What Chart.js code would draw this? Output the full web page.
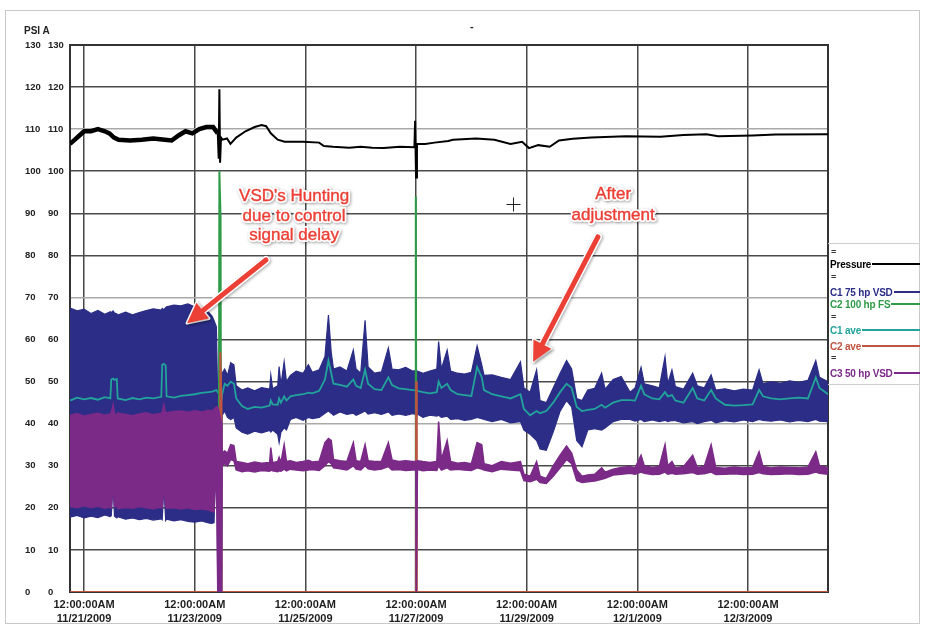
<!DOCTYPE html>
<html>
<head>
<meta charset="utf-8">
<script src="https://cdn.jsdelivr.net/npm/chart.js@4.4.1/dist/chart.umd.min.js"></script>
<style>
  html, body { margin: 0; padding: 0; background: #fff; }
  #wrap { position: relative; width: 926px; height: 631px; overflow: hidden; font-family: "Liberation Sans", Arial, sans-serif; }
  #frame { position: absolute; left: 5px; top: 10px; width: 915px; height: 614px; border: 1px solid #c9c9c9; box-sizing: border-box; }
  canvas { position: absolute; left: 0; top: 0; }
  .lbl { position: absolute; font-weight: bold; color: #222; white-space: nowrap; }
  #legend { position: absolute; left: 828px; top: 243px; width: 92px; height: 140px; border-top: 1px solid #cfcfcf; border-bottom: 1px solid #cfcfcf; }
  .row { position: absolute; left: 2px; right: 0; height: 12px; display: flex; align-items: center; font-size: 10px; font-weight: bold; white-space: nowrap; letter-spacing: -0.2px; }
  .row .ln { flex: 1; height: 2px; margin-left: 1px; }
  .eq { position: absolute; left: 3px; font-size: 9px; font-weight: bold; color: #333; line-height: 9px; }
</style>
</head>
<body>
<div id="wrap">
  <div id="frame"></div>
  <canvas id="chart" width="926" height="631"></canvas>
  <div class="lbl" style="left:24px;top:25px;font-size:10px;">PSI A</div>
  <div class="lbl" style="left:470px;top:20px;font-size:11px;">-</div>
  <div id="legend"></div>
</div>
<script>
// Time axis: hours since 11/21/2009 00:00
const tickHours = [0, 48, 96, 144, 192, 240, 288];
const tickTimes = ['12:00:00AM', '12:00:00AM', '12:00:00AM', '12:00:00AM', '12:00:00AM', '12:00:00AM', '12:00:00AM'];
const tickDates = ['11/21/2009', '11/23/2009', '11/25/2009', '11/27/2009', '11/29/2009', '12/1/2009', '12/3/2009'];
const psiTicks = [0, 10, 20, 30, 40, 50, 60, 70, 80, 90, 100, 110, 120, 130];
const lightRows = [40, 70, 110];

// Compressor samples (shared time base)
const sampleHours = [
  -6.1, -3, 0, 3, 6, 9, 11.4, 11.8, 12.6, 13.2,
  14.2, 14.6, 18, 21, 24, 27, 30, 33.5, 33.9, 34.6,
  35.4, 35.8, 39, 42, 45, 48, 51, 54, 55.5, 56.4,
  57.4, 58.0, 59.7, 59.9, 61.0, 62.2, 63.6, 65.0, 66.0, 68.5,
  71.0, 74.0, 77.0, 80.5, 81.0, 81.8, 84.0, 84.6, 85.4, 86.8,
  87.8, 89.5, 92.0, 95.0, 97.3, 99.0, 102.0, 104.5, 106.0, 107.2,
  108.2, 111.0, 114.0, 116.8, 118.0, 120.0, 121.9, 123.2, 126.0, 129.0,
  132.0, 133.6, 136.5, 139.5, 142.5, 143.9, 144.1, 144.4, 144.6, 147.0,
  150.0, 153.0, 153.8, 155.0, 157.5, 159.0, 162.0, 165.0, 168.0, 170.5,
  172.5, 173.5, 177.0, 181.0, 185.0, 189.3, 190.8, 193.5, 196.3, 197.8,
  200.5, 203.5, 206.5, 209.3, 211.5, 213.7, 216.0, 218.5, 221.5, 224.5,
  226.0, 229.5, 233.0, 236.8, 239.0, 241.6, 243.0, 246.5, 249.5, 252.0,
  253.2, 255.0, 256.5, 260.0, 264.0, 266.0, 269.0, 272.0, 274.0, 278.0,
  282.0, 286.0, 290.0, 292.8, 294.5, 298.0, 302.0, 306.0, 310.0, 314.0,
  317.4, 319.0, 322.7
];
// C1 75 hp VSD: upper and lower envelope
const c1High = [
  67.5, 66.8, 67.2, 66.2, 66.9, 66.0, 66.6, 66.4, 66.8, 66.3,
  66.1, 65.8, 66.5, 65.9, 66.4, 66.9, 67.3, 67.0, 67.4, 67.1,
  67.6, 67.8, 68.2, 68.0, 68.5, 67.8, 67.2, 66.5, 65.6, 64.5,
  63.0, 45.0, 45.0, 52.0, 53.0, 51.5, 54.5, 54.0, 49.0, 48.0,
  48.5, 47.8, 48.6, 48.2, 51.6, 48.3, 49.0, 53.6, 49.2, 54.7,
  50.0, 51.5, 52.5, 52.0, 54.0, 52.2, 52.8, 56.0, 65.8, 57.0,
  53.0, 53.5, 52.5, 57.5, 53.0, 52.0, 64.6, 53.5, 52.0, 52.3,
  58.0, 53.0, 52.8, 53.4, 52.5, 52.6, 52.4, 52.5, 52.5, 52.0,
  52.5, 53.0, 59.5, 53.0, 57.5, 52.5, 52.0, 51.8, 52.2, 58.5,
  54.0, 51.5, 51.6, 51.0, 50.5, 54.7, 48.5, 47.5, 52.8, 45.5,
  45.0, 48.5, 52.0, 55.0, 53.0, 46.0, 45.5, 48.0, 48.4, 52.0,
  48.2, 50.5, 51.2, 47.5, 48.5, 53.4, 49.5, 49.0, 48.5, 55.9,
  49.5, 52.8, 48.8, 48.2, 52.0, 49.0, 48.5, 51.6, 48.0, 48.3,
  47.8, 48.2, 48.0, 52.8, 49.5, 50.0, 49.6, 50.2, 49.8, 50.3,
  55.0, 51.0, 50.0
];
const c1Low = [
  17.8, 18.2, 17.6, 18.0, 17.7, 18.3, 17.9, 18.1, 26.0, 18.0,
  17.6, 17.9, 17.3, 17.6, 17.2, 17.5, 17.1, 17.4, 17.2, 25.5,
  17.0, 17.3, 16.9, 17.2, 16.8, 16.6, 16.9, 16.4, 16.3, 16.5,
  45.0, 0.0, 0.0, 42.0, 43.0, 41.5, 41.0, 41.5, 39.0, 38.0,
  37.5, 38.2, 37.8, 38.4, 38.0, 38.5, 37.5, 35.5, 38.0, 39.0,
  38.5, 41.0, 41.5, 40.8, 41.5, 41.2, 41.5, 42.5, 43.0, 42.5,
  42.0, 42.8, 42.2, 42.5, 42.0, 42.5, 43.0, 42.3, 42.6, 42.2,
  42.8, 42.0, 42.3, 42.0, 42.4, 42.2, 42.0, 42.1, 42.3, 41.5,
  42.0, 41.8, 42.0, 41.5, 41.8, 41.0, 41.2, 40.8, 41.0, 41.5,
  41.2, 41.0, 40.5, 41.0, 40.2, 40.5, 38.5, 37.5, 36.0, 34.0,
  33.7, 38.0, 43.0, 45.5, 44.0, 36.0, 34.5, 38.5, 38.8, 38.5,
  39.0, 40.5, 41.0, 41.0, 40.6, 41.0, 40.5, 40.9, 40.5, 40.8,
  40.5, 40.8, 40.7, 40.2, 40.5, 40.0, 40.5, 40.8, 40.2, 40.7,
  40.4, 40.9, 40.5, 41.0, 40.8, 40.6, 40.9, 40.4, 40.8, 40.5,
  41.0, 40.6, 40.5
];
// C1 ave
const c1Avg = [
  45.5, 46.2, 45.8, 46.1, 45.7, 46.3, 46.0, 50.5, 50.7, 50.4,
  50.6, 46.0, 45.6, 46.1, 45.8, 46.2, 46.0, 46.4, 54.0, 54.2,
  53.8, 46.5, 46.2, 46.6, 46.8, 47.0, 47.3, 47.5, 47.6, 47.8,
  48.0, 47.5, 46.0, 47.0, 49.5, 49.0, 50.0, 49.5, 46.0, 44.2,
  43.5, 44.0, 43.8, 44.3, 45.5, 44.6, 44.5, 46.0, 45.0, 46.5,
  45.5, 46.5, 46.8, 47.0, 47.4, 47.2, 47.8, 50.5, 55.0, 52.0,
  49.5, 49.2, 48.8, 50.5, 49.0, 48.5, 52.8, 49.5, 48.2, 48.0,
  51.0, 49.2, 48.4, 48.2, 48.0, 47.9, 47.8, 47.8, 47.8, 47.5,
  47.2, 47.5, 50.0, 48.5, 49.5, 48.0, 47.0, 46.8, 46.6, 53.5,
  51.0, 48.0, 47.0, 46.5, 46.0, 47.0, 43.5, 42.0, 43.0, 42.5,
  43.0, 45.0, 47.5, 49.5, 48.5, 44.0, 43.0, 43.3, 43.5, 44.5,
  43.8, 45.0, 45.6, 45.6, 45.5, 49.0, 47.0, 46.0, 45.8, 47.5,
  46.5, 46.8, 45.5, 45.0, 48.5, 46.0, 45.5, 48.0, 46.0, 44.5,
  44.3, 44.4, 44.6, 48.0, 46.5, 46.0, 45.8, 46.0, 46.2, 46.0,
  51.0, 48.5, 47.0
];
// C3 50 hp VSD: upper and lower envelope
const c3High = [
  42.0, 42.4, 41.8, 42.2, 42.5, 42.0, 42.3, 42.6, 44.5, 42.4,
  42.1, 42.5, 42.2, 41.9, 42.3, 42.6, 42.1, 42.5, 42.8, 44.5,
  42.4, 42.6, 42.9, 43.0, 42.7, 43.1, 42.8, 43.2, 43.0, 43.5,
  44.0, 44.0, 40.0, 33.0, 33.5, 33.0, 35.0, 34.8, 31.0, 30.8,
  30.5, 30.9, 30.6, 30.8, 34.3, 30.7, 31.0, 32.0, 30.8, 35.0,
  31.0, 31.2, 30.8, 31.0, 31.3, 30.9, 31.1, 35.5, 36.5, 36.0,
  31.5, 31.2, 31.0, 35.5, 31.2, 31.0, 35.0, 31.2, 31.0, 31.1,
  35.5, 31.4, 31.0, 31.2, 31.0, 31.0, 31.0, 31.0, 31.2, 31.0,
  30.8, 31.0, 40.5, 31.5, 36.0, 31.0, 30.6, 30.8, 30.5, 35.5,
  35.0, 30.5, 30.0, 31.0, 30.6, 31.0, 28.0, 27.5, 31.0, 27.5,
  27.0, 30.0, 32.5, 34.7, 33.0, 29.0, 27.5, 27.8, 28.0, 29.5,
  28.5, 29.2, 29.6, 29.8, 29.5, 32.5, 30.0, 29.6, 29.8, 35.0,
  30.0, 31.0, 29.5, 29.8, 32.5, 29.6, 29.8, 35.0, 29.6, 29.4,
  29.7, 29.5, 29.6, 33.3, 29.8, 29.5, 29.7, 29.6, 29.5, 29.7,
  33.3, 30.0, 29.6
];
const c3Low = [
  20.3, 20.0, 20.5, 20.1, 20.4, 19.9, 20.2, 20.0, 26.0, 20.2,
  20.5, 19.8, 20.1, 19.9, 20.3, 20.0, 19.8, 20.2, 20.0, 25.5,
  20.1, 19.9, 20.0, 19.7, 20.0, 19.6, 19.8, 19.5, 19.2, 19.0,
  30.0, 0.0, 0.0, 30.0, 30.5, 30.0, 31.5, 31.2, 29.0, 28.6,
  28.8, 28.5, 28.9, 28.7, 29.0, 28.8, 28.6, 28.8, 28.7, 29.2,
  28.8, 29.2, 29.0, 28.8, 29.0, 29.1, 28.9, 30.0, 31.0, 30.5,
  29.5, 29.3, 29.0, 30.0, 29.2, 29.0, 30.0, 29.3, 29.0, 29.2,
  29.8, 29.0, 29.1, 28.9, 29.0, 29.0, 0.0, 0.0, 29.1, 28.8,
  29.0, 28.9, 30.0, 29.0, 29.5, 29.0, 29.2, 29.0, 28.9, 29.5,
  29.2, 29.0, 28.6, 29.2, 29.0, 28.8, 26.5, 26.2, 26.8, 26.0,
  25.8, 27.5, 29.5, 31.5, 30.5, 26.5, 26.0, 26.2, 26.4, 26.8,
  27.0, 27.8, 28.0, 28.2, 28.0, 28.5, 28.2, 27.9, 28.0, 28.5,
  28.0, 28.2, 28.0, 28.1, 28.4, 28.0, 28.1, 28.5, 27.9, 28.0,
  28.1, 27.9, 28.0, 28.4, 28.1, 27.9, 28.0, 28.1, 27.9, 28.0,
  28.5, 28.2, 28.0
];

// Header pressure
const pressureHours = [
  -6.1, -4, -2, 0, 3, 6, 9, 11, 13, 15,
  20, 25, 30, 35, 38, 41, 44, 47, 50, 53,
  56, 58.0, 58.4, 58.7, 59.0, 59.4, 60, 62, 63.5, 66,
  70, 74, 77, 79, 81, 84, 87, 95, 102, 104,
  108, 115, 120, 125, 130, 137, 143.3, 143.6, 144.0, 144.4,
  148, 152, 158, 160, 170, 178, 185, 190, 193, 197,
  202, 206, 212, 220, 235, 250, 260, 270, 275, 290,
  300, 322.7
];
const pressurePsi = [
  106.5, 107.5, 108.5, 109.5, 109.5, 110, 109.5, 109, 108, 107.5,
  107.3, 107.5, 107.8, 107.5, 107.3, 108.5, 109.5, 109, 110, 110.5,
  110.5, 109, 103, 119.5, 102, 108, 107.5, 107.8, 106.5, 108,
  109.5, 110.5, 111, 110.7, 109, 107.5, 107, 107, 106.8, 106,
  105.8, 105.6, 105.8, 105.6, 105.5, 105.8, 105.7, 112, 98.5, 106.5,
  106.5, 106.8, 107.2, 107.5, 107.8, 107.5, 106.5, 107, 105.5, 106.2,
  105.8, 107.3, 107.7, 108, 108.3, 108.2, 108.6, 108.8, 108.3, 108.5,
  108.7, 108.8
];

// C2 100 hp FS (fixed speed) and its average
const c2Hours = [-6.1, 58.4, 58.7, 59.2, 59.5, 143.7, 143.9, 144.2, 322.7];
const c2Psi = [0, 0, 100, 89, 0, 0, 94, 0, 0];
const c2AveHours = [-6.1, 58.9, 59.1, 59.5, 59.6, 143.95, 144.05, 144.3, 144.35, 322.7];
const c2AvePsi = [0, 0, 57, 47, 0, 0, 50, 45, 0, 0];

const seriesNames = ['Pressure', 'C1 75 hp VSD', 'C2 100 hp FS', 'C1 ave', 'C2 ave', 'C3 50 hp VSD'];
const seriesColors = ['#000000', '#2b2d86', '#2f9a48', '#22a39b', '#bf5440', '#7b2a88'];

// Callout notes, placed in data units (hours, psi)
const noteHunting = { at: 91.1, rows: [94.1, 89.4, 84.8], lines: ["VSD's Hunting", 'due to control', 'signal delay'], arrow: [[78.9, 78.9], [44.7, 63.9]] };
const noteAdjust = { at: 229.5, rows: [94.4, 89.6], lines: ['After', 'adjustment'], arrow: [[222.9, 84.4], [194.8, 54.7]] };
const cursorMark = [186.1, 92.2];

const FONT = '"Liberation Sans", Arial, sans-serif';
const zip = (xs, ys) => xs.slice(0, Math.min(xs.length, ys.length)).map((x, i) => ({ x, y: ys[i] }));

// legend box
(function buildLegend() {
  const box = document.getElementById('legend');
  const eqRows = [9, 34, 74, 115];
  eqRows.forEach(c => {
    const e = document.createElement('div');
    e.className = 'eq'; e.style.top = (c - 5) + 'px'; e.textContent = '=';
    box.appendChild(e);
  });
  const centers = [20, 48, 60, 86, 102, 129];
  seriesNames.forEach((name, i) => {
    const r = document.createElement('div');
    r.className = 'row'; r.style.top = (centers[i] - 6) + 'px'; r.style.color = seriesColors[i];
    const s = document.createElement('span'); s.textContent = name;
    const l = document.createElement('div'); l.className = 'ln'; l.style.background = seriesColors[i];
    r.appendChild(s); r.appendChild(l); box.appendChild(r);
  });
})();

const plotFrame = {
  id: 'plotFrame',
  beforeDatasetsDraw(chart) {
    const { ctx, chartArea: a } = chart;
    ctx.save();
    ctx.strokeStyle = '#333';
    ctx.lineWidth = 2;
    ctx.strokeRect(a.left, a.top, a.right - a.left, a.bottom - a.top);
    ctx.restore();
  }
};

function drawArrow(ctx, x0, y0, x1, y1) {
  const ang = Math.atan2(y1 - y0, x1 - x0);
  const headLen = 20, headW = 10;
  const bx = x1 - headLen * Math.cos(ang), by = y1 - headLen * Math.sin(ang);
  const sx = Math.sin(ang), cy = Math.cos(ang);
  // white halo
  ctx.save();
  ctx.shadowColor = 'rgba(0,0,0,0.35)'; ctx.shadowBlur = 3; ctx.shadowOffsetX = 1; ctx.shadowOffsetY = 1;
  ctx.strokeStyle = '#fff'; ctx.fillStyle = '#fff'; ctx.lineWidth = 8; ctx.lineCap = 'round'; ctx.lineJoin = 'round';
  ctx.beginPath(); ctx.moveTo(x0, y0); ctx.lineTo(bx, by); ctx.stroke();
  ctx.beginPath(); ctx.moveTo(x1, y1); ctx.lineTo(bx + headW * sx, by - headW * cy); ctx.lineTo(bx - headW * sx, by + headW * cy); ctx.closePath();
  ctx.lineWidth = 3; ctx.stroke(); ctx.fill();
  ctx.restore();
  // red arrow
  ctx.save();
  ctx.strokeStyle = '#ec3f35'; ctx.fillStyle = '#ec3f35'; ctx.lineWidth = 5; ctx.lineCap = 'round';
  ctx.beginPath(); ctx.moveTo(x0, y0); ctx.lineTo(bx, by); ctx.stroke();
  ctx.beginPath(); ctx.moveTo(x1, y1); ctx.lineTo(bx + headW * sx, by - headW * cy); ctx.lineTo(bx - headW * sx, by + headW * cy); ctx.closePath(); ctx.fill();
  ctx.restore();
}

function drawNote(ctx, text, x, y) {
  ctx.save();
  ctx.font = '17px ' + FONT;
  ctx.textAlign = 'center'; ctx.textBaseline = 'middle';
  ctx.shadowColor = 'rgba(0,0,0,0.35)'; ctx.shadowBlur = 3; ctx.shadowOffsetX = 1; ctx.shadowOffsetY = 1;
  ctx.strokeStyle = '#fff'; ctx.lineWidth = 4; ctx.lineJoin = 'round';
  ctx.strokeText(text, x, y);
  ctx.shadowColor = 'transparent';
  ctx.fillStyle = '#ec3f35';
  ctx.fillText(text, x, y);
  ctx.lineWidth = 0.4; ctx.strokeStyle = '#ec3f35';
  ctx.strokeText(text, x, y);
  ctx.restore();
}

const callouts = {
  id: 'callouts',
  afterDatasetsDraw(chart) {
    const { ctx, scales: { x, y } } = chart;
    const px = h => x.getPixelForValue(h), py = v => y.getPixelForValue(v);
    // cursor crosshair
    ctx.save();
    ctx.strokeStyle = '#222'; ctx.lineWidth = 1;
    const cx = Math.round(px(cursorMark[0])) + 0.5, cyy = Math.round(py(cursorMark[1])) + 0.5;
    ctx.beginPath(); ctx.moveTo(cx - 7, cyy); ctx.lineTo(cx + 7, cyy); ctx.moveTo(cx, cyy - 7); ctx.lineTo(cx, cyy + 7); ctx.stroke();
    ctx.restore();
    [noteHunting, noteAdjust].forEach(n => {
      drawArrow(ctx, px(n.arrow[0][0]), py(n.arrow[0][1]), px(n.arrow[1][0]), py(n.arrow[1][1]));
      n.lines.forEach((t, i) => drawNote(ctx, t, px(n.at), py(n.rows[i])));
    });
  }
};

const lineBase = { pointRadius: 0, pointHoverRadius: 0, tension: 0, fill: false };

new Chart(document.getElementById('chart'), {
  type: 'line',
  data: {
    datasets: [
      { ...lineBase, label: 'C1 75 hp VSD high', data: zip(sampleHours, c1High), borderColor: seriesColors[1], borderWidth: 1.2, order: 5 },
      { ...lineBase, label: 'C1 75 hp VSD low', data: zip(sampleHours, c1Low), borderColor: seriesColors[1], borderWidth: 1.2, backgroundColor: seriesColors[1], fill: '-1', order: 5 },
      { ...lineBase, label: 'C1 ave', data: zip(sampleHours, c1Avg), borderColor: seriesColors[3], borderWidth: 1.8, order: 4 },
      { ...lineBase, label: 'C2 100 hp FS', data: zip(c2Hours, c2Psi), borderColor: seriesColors[2], borderWidth: 2, order: 3 },
      { ...lineBase, label: 'C2 ave', data: zip(c2AveHours, c2AvePsi), borderColor: seriesColors[4], borderWidth: 2, order: 2 },
      { ...lineBase, label: 'C3 50 hp VSD high', data: zip(sampleHours, c3High), borderColor: seriesColors[5], borderWidth: 1.5, order: 1 },
      { ...lineBase, label: 'C3 50 hp VSD low', data: zip(sampleHours, c3Low), borderColor: seriesColors[5], borderWidth: 1.5, backgroundColor: seriesColors[5], fill: '-1', order: 1 },
      { ...lineBase, label: 'Pressure', data: zip(pressureHours, pressurePsi), borderColor: seriesColors[0], borderWidth: 2,
        segment: { borderWidth: c => (c.p1.parsed.x <= 58.0 ? 4.5 : 2) }, order: 0 }
    ]
  },
  options: {
    responsive: false,
    animation: false,
    events: [],
    layout: { padding: { left: 25, top: 45, right: 98, bottom: 5 } },
    plugins: { legend: { display: false }, tooltip: { enabled: false } },
    scales: {
      x: {
        type: 'linear', min: -6.1, max: 322.7,
        afterBuildTicks: s => { s.ticks = tickHours.map(v => ({ value: v })); },
        afterFit: s => { s.height = 34; },
        ticks: {
          autoSkip: false, maxRotation: 0, padding: 5, color: '#1e1e1e',
          font: { family: FONT, size: 11, weight: 'bold', lineHeight: 1.36 },
          callback: (v, i) => [tickTimes[i], tickDates[i]]
        },
        grid: { color: '#474747', lineWidth: 1.5, drawTicks: false },
        border: { display: false }
      },
      y: {
        position: 'left', weight: 0, min: 0, max: 130,
        afterBuildTicks: s => { s.ticks = psiTicks.map(v => ({ value: v })); },
        afterFit: s => { s.width = 22; },
        ticks: { crossAlign: 'far', padding: 0, color: '#222', font: { family: FONT, size: 9.5, weight: 'bold' } },
        grid: {
          color: c => (c.tick && lightRows.includes(c.tick.value)) ? '#a9a9a9' : '#4a4a4a',
          lineWidth: 1.5, drawTicks: false
        },
        border: { display: false }
      },
      y2: {
        position: 'left', weight: 1, min: 0, max: 130,
        afterBuildTicks: s => { s.ticks = psiTicks.map(v => ({ value: v })); },
        afterFit: s => { s.width = 23; },
        ticks: { crossAlign: 'far', padding: 0, color: '#222', font: { family: FONT, size: 9.5, weight: 'bold' } },
        grid: { display: false, drawTicks: false },
        border: { display: false }
      }
    }
  },
  plugins: [plotFrame, callouts]
});
</script>
</body>
</html>
